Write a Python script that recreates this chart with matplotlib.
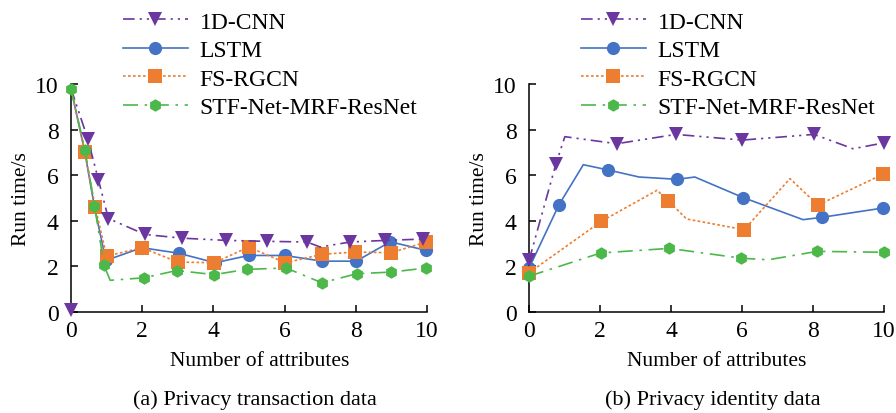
import numpy as np
import matplotlib
matplotlib.use("Agg")
import matplotlib.pyplot as plt

plt.rcParams['font.family'] = ['Liberation Serif', 'DejaVu Serif']
plt.rcParams['font.size'] = 17

methods = ['1D-CNN', 'LSTM', 'FS-RGCN', 'STF-Net-MRF-ResNet']
colors = ['#6B36A0', '#4472C4', '#ED7D31', '#4CB84A']
markers = ['v', 'o', 's', 'h']
dashes = [(7, 3, 1.3, 3, 1.3, 3), None, (1.6, 1.4), (9, 4, 1.5, 4)]

# (a) privacy transaction data -- line vertices, marker indices
cnn_a_x = [0, 0.47, 0.77, 1.05, 2.08, 3.11, 4.36, 5.5, 6.63, 7.0, 7.84, 8.83, 9.9]
cnn_a_y = [9.8, 7.6, 5.8, 4.1, 3.4, 3.24, 3.14, 3.1, 3.07, 2.85, 3.07, 3.14, 3.2]
cnn_a_mk = [1, 2, 3, 4, 5, 6, 7, 8, 10, 11, 12]
cnn_a_extra_x = [0]
cnn_a_extra_y = [0.1]

lstm_a_x = [0, 0.39, 0.66, 0.98, 1.99, 3.02, 4.05, 4.99, 6.0, 7.05, 8.01, 8.97, 9.98]
lstm_a_y = [9.8, 7.0, 4.6, 2.26, 2.82, 2.58, 2.16, 2.48, 2.48, 2.23, 2.23, 3.08, 2.7]
lstm_a_mk = [3, 4, 5, 6, 7, 8, 9, 10, 11, 12]

fs_a_x = [0, 0.39, 0.68, 1.0, 1.99, 3.0, 4.03, 4.99, 6.02, 7.05, 7.98, 8.99, 9.98]
fs_a_y = [9.8, 7.0, 4.6, 2.45, 2.82, 2.19, 2.16, 2.85, 2.16, 2.53, 2.63, 2.6, 3.07]
fs_a_mk = [1, 2, 3, 4, 5, 6, 7, 8, 9, 10, 11, 12]

stf_a_x = [0, 0.39, 0.66, 0.93, 1.1, 2.05, 2.97, 4.02, 4.94, 6.04, 7.05, 8.03, 8.99, 9.98]
stf_a_y = [9.8, 7.12, 4.67, 2.04, 1.39, 1.5, 1.82, 1.64, 1.87, 1.93, 1.28, 1.68, 1.75, 1.93]
stf_a_mk = [0, 1, 2, 3, 5, 6, 7, 8, 9, 10, 11, 12, 13]

# (b) privacy identity data
cnn_b_x = [0, 0.76, 1.01, 2.47, 4.14, 6.01, 8.03, 9.13, 10]
cnn_b_y = [2.26, 6.5, 7.69, 7.38, 7.79, 7.54, 7.79, 7.16, 7.42]
cnn_b_mk = [0, 1, 3, 4, 5, 6, 8]

lstm_b_x = [0, 0.84, 1.53, 2.23, 3.1, 4.18, 4.67, 6.03, 7.72, 8.24, 9.97]
lstm_b_y = [1.92, 4.69, 6.46, 6.23, 5.92, 5.82, 5.92, 5.02, 4.05, 4.15, 4.56]
lstm_b_mk = [0, 1, 3, 5, 7, 9, 10]

fs_b_x = [0, 2.03, 3.61, 3.92, 4.44, 6.06, 7.35, 8.14, 9.97]
fs_b_y = [1.72, 3.97, 5.34, 4.88, 4.08, 3.61, 5.85, 4.69, 6.04]
fs_b_mk = [0, 1, 3, 5, 7, 8]

stf_b_x = [0, 2.02, 3.95, 5.98, 6.74, 8.12, 9.99]
stf_b_y = [1.57, 2.59, 2.79, 2.36, 2.29, 2.66, 2.62]
stf_b_mk = [0, 1, 2, 3, 5, 6]

panel_a = [(cnn_a_x, cnn_a_y, cnn_a_mk), (lstm_a_x, lstm_a_y, lstm_a_mk),
           (fs_a_x, fs_a_y, fs_a_mk), (stf_a_x, stf_a_y, stf_a_mk)]
panel_b = [(cnn_b_x, cnn_b_y, cnn_b_mk), (lstm_b_x, lstm_b_y, lstm_b_mk),
           (fs_b_x, fs_b_y, fs_b_mk), (stf_b_x, stf_b_y, stf_b_mk)]
captions = ['(a) Privacy transaction data', '(b) Privacy identity data']
zorders = [3.5, 2, 3, 4]

W, H = 896, 414
fig = plt.figure(figsize=(W / 100, H / 100), dpi=100)
ax_a = fig.add_axes([71 / W, 101 / H, 356 / W, 228 / H])
ax_b = fig.add_axes([529 / W, 101 / H, 355 / W, 228 / H])

for ax, panel, cap in zip([ax_a, ax_b], [panel_a, panel_b], captions):
    handles = []
    for i, (xs, ys, mk) in enumerate(panel):
        kw = dict(color=colors[i], lw=1.2, marker=markers[i], markevery=mk,
                  markersize=9.5 if i != 3 else 9, markeredgewidth=0,
                  label=methods[i], clip_on=False, zorder=zorders[i])
        line, = ax.plot(xs, ys, **kw)
        if dashes[i] is not None:
            line.set_dashes(dashes[i])
        handles.append(line)
    ax.set_xlim(0, 10)
    ax.set_ylim(0, 10)
    ax.set_xticks(np.arange(0, 11, 2))
    ax.set_yticks(np.arange(0, 11, 2))
    ax.spines['top'].set_visible(False)
    ax.spines['right'].set_visible(False)
    for s in ['left', 'bottom']:
        ax.spines[s].set_linewidth(1.1)
    ax.tick_params(direction='in', length=5, width=1.1, pad=6, labelsize=17)
    ax.tick_params(axis='y', pad=9)
    ax.set_xlabel('Number of attributes', fontsize=15.5)
    ax.xaxis.set_label_coords(0.53, -0.17)
    ax.set_ylabel('Run time/s', fontsize=15.5)
    ax.yaxis.set_label_coords(-0.113, 0.5)
    x0 = ax.get_position().x0
    fig.legend(handles=handles, loc='upper left',
               bbox_to_anchor=(x0 + 52 / W, 1 - 12 / H), frameon=False,
               borderpad=0, borderaxespad=0, handlelength=2.75,
               handletextpad=0.5, labelspacing=0.3, fontsize=17)
    pos = ax.get_position()
    fig.text((pos.x0 + pos.x1) / 2 + 6 / W, 1 - 400 / H, cap, fontsize=16,
             ha='center', va='center')

ax_a.plot(cnn_a_extra_x, cnn_a_extra_y, ls='none', marker='v', color=colors[0],
          markersize=9.5, markeredgewidth=0, clip_on=False, zorder=3.5)

fig.savefig('out.png', dpi=100)
